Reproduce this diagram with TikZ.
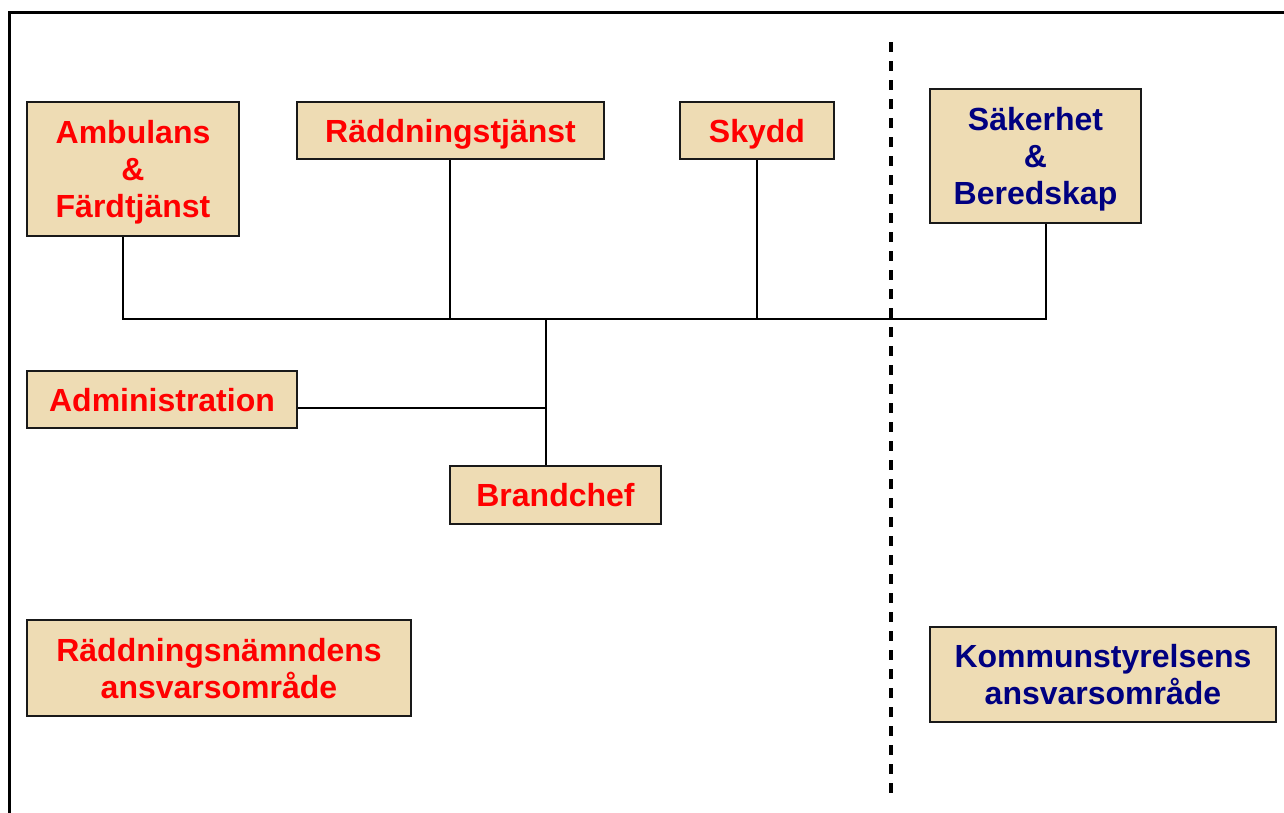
\documentclass[tikz,border=0pt]{standalone}
\usepackage{fontspec}
\setmainfont{Liberation Sans}
\definecolor{parchment}{RGB}{238,220,180}
\definecolor{boxred}{RGB}{255,0,0}
\definecolor{boxnavy}{RGB}{0,0,128}
\begin{document}
\begin{tikzpicture}[x=1pt,y=-1pt,
  orgbox/.style={draw=black!90, line width=2.4pt, fill=parchment, align=center,
    inner sep=0pt, text depth=0pt, font=\fontsize{32}{37}\selectfont\bfseries},
  rescue/.style={orgbox, text=boxred},
  council/.style={orgbox, text=boxnavy},
  link/.style={line width=2.2pt, black},
  border/.style={dash pattern=on 10pt off 9pt, line width=4pt, black}]
\clip (0,0) rectangle (1284,812);
\fill[white] (0,0) rectangle (1284,812);
% outer frame
\draw[line width=3pt] (9,12) rectangle (1320,860);

% units
\node[rescue, minimum width=212pt, minimum height=134pt] (amb) at (133,169) {Ambulans\\\&\\Färdtjänst};
\node[rescue, minimum width=307pt, minimum height=57pt] (rt) at (450.5,130.5) {Räddningstjänst};
\node[rescue, minimum width=154pt, minimum height=57pt] (sk) at (757,130.5) {Skydd};
\node[council, minimum width=211pt, minimum height=134pt] (sak) at (1035.5,156) {Säkerhet\\\&\\Beredskap};
\node[rescue, minimum width=270pt, minimum height=57pt] (adm) at (162,399.5) {Administration};
\node[rescue, minimum width=211pt, minimum height=58pt] (bc) at (555.5,495) {Brandchef};
\node[rescue, minimum width=384pt, minimum height=96pt] (rn) at (219,668) {Räddningsnämndens\\ansvarsområde};
\node[council, minimum width=346pt, minimum height=95pt] (ks) at (1103,674.5) {Kommunstyrelsens\\ansvarsområde};

% junction points of the tree
\coordinate (bl) at (123,319);
\coordinate (br) at (1046,319);
\coordinate (j) at (546,319);
\coordinate (rj) at (450,319);
\coordinate (aj) at (546,408);

\draw[link] (bl |- amb.south) -- (bl) -- (br) -- (br |- sak.south);
\draw[link] (rj |- rt.south) -- (rj);
\draw[link] (sk.south) -- (sk.south |- j);
\draw[link] (j) -- (j |- bc.north);
\draw[link] (adm.east |- aj) -- (aj);

% boundary between areas of responsibility
\coordinate (dtop) at (891,42);
\coordinate (dbot) at (891,800);
\draw[border] (dtop) -- (dbot);
\end{tikzpicture}
\end{document}
